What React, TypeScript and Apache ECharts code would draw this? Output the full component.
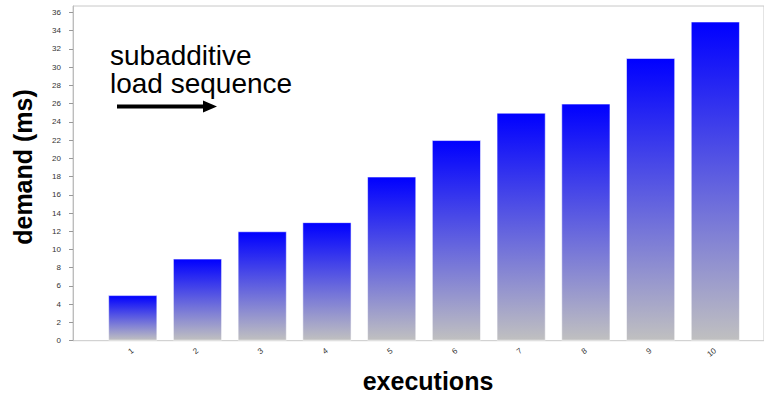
import React, { useEffect, useRef } from "react";
import * as echarts from "echarts";

// Demand per execution (ms)
const categories = ["1", "2", "3", "4", "5", "6", "7", "8", "9", "10"];
const demand = [5, 9, 12, 13, 18, 22, 25, 26, 31, 35];
const yTicks = [0, 2, 4, 6, 8, 10, 12, 14, 16, 18, 20, 22, 24, 26, 28, 30, 32, 34, 36];
const yMax = 36.7;

const FONT = "Liberation Sans, Arial, sans-serif";

export default function App() {
  const ref = useRef<HTMLDivElement>(null);

  useEffect(() => {
    document.body.style.margin = "0";
    if (!ref.current) return;
    const chart = echarts.init(ref.current, null, { renderer: "svg" });

    chart.setOption({
      animation: false,
      backgroundColor: "#ffffff",
      grid: [
        // frame: left axis, bottom axis and top rule
        {
          left: 73,
          top: 6,
          right: -10,
          bottom: 60.3,
          show: true,
          borderColor: "#c8c8c8",
          borderWidth: 1,
          backgroundColor: "transparent",
        },
        // bar area
        { left: 100.4, right: 16.3, top: 6, bottom: 60.3 },
      ],
      xAxis: [
        { gridIndex: 0, type: "value", show: false, min: 0, max: 1 },
        {
          gridIndex: 1,
          type: "category",
          data: categories,
          axisLine: { show: false },
          axisTick: { show: false },
          axisLabel: {
            rotate: 38,
            fontSize: 8,
            color: "#333",
            margin: 9,
            fontFamily: FONT,
          },
        },
      ],
      yAxis: [
        {
          gridIndex: 0,
          type: "value",
          min: 0,
          max: yMax,
          axisLine: { show: true, lineStyle: { color: "#bdbdbd" } },
          axisTick: {
            show: true,
            length: 4,
            customValues: yTicks,
            lineStyle: { color: "#999" },
          },
          axisLabel: {
            customValues: yTicks,
            fontSize: 8,
            color: "#333",
            margin: 12,
            fontFamily: FONT,
          },
          splitLine: { show: false },
        },
        { gridIndex: 1, type: "value", min: 0, max: yMax, show: false },
      ],
      series: [
        {
          type: "bar",
          xAxisIndex: 1,
          yAxisIndex: 1,
          data: demand,
          barCategoryGap: "24%",
          itemStyle: {
            color: {
              type: "linear",
              x: 0,
              y: 0,
              x2: 0,
              y2: 1,
              colorStops: [
                { offset: 0, color: "#0000ff" },
                { offset: 1, color: "#c0c0c0" },
              ],
            },
            borderColor: "rgba(255,255,255,0.55)",
            borderWidth: 1,
          },
        },
      ],
      graphic: [
        {
          type: "text",
          x: 23,
          y: 167,
          rotation: Math.PI / 2,
          style: {
            text: "demand (ms)",
            font: `bold 25px ${FONT}`,
            fill: "#000",
            align: "center",
            verticalAlign: "middle",
          },
        },
        {
          type: "text",
          x: 428,
          y: 381,
          style: {
            text: "executions",
            font: `bold 25px ${FONT}`,
            fill: "#000",
            align: "center",
            verticalAlign: "middle",
          },
        },
        {
          type: "text",
          x: 110,
          y: 40.75,
          style: {
            text: "subadditive\nload sequence",
            font: `28px ${FONT}`,
            lineHeight: 28.5,
            fill: "#000",
            align: "left",
            verticalAlign: "top",
          },
        },
        {
          type: "line",
          shape: { x1: 117, y1: 106.5, x2: 205, y2: 106.5 },
          style: { stroke: "#000", lineWidth: 4 },
        },
        {
          type: "polygon",
          shape: {
            points: [
              [203, 100.5],
              [217, 106.5],
              [203, 112.5],
            ],
          },
          style: { fill: "#000" },
        },
      ],
    });

    return () => chart.dispose();
  }, []);

  return <div ref={ref} style={{ width: 764, height: 401 }} />;
}
